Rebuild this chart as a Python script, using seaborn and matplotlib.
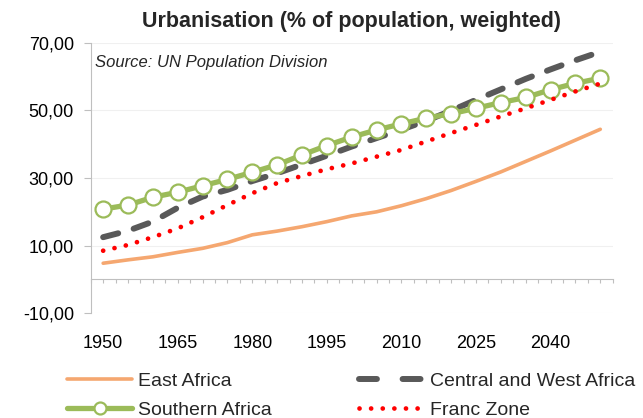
import numpy as np
import pandas as pd
import matplotlib
matplotlib.use("Agg")
import matplotlib.pyplot as plt
import seaborn as sns

# data (urban share, % of population)
years = list(range(1950, 2051, 5))
east = [4.8, 5.8, 6.7, 8.0, 9.2, 10.9, 13.2, 14.3, 15.6, 17.1, 18.8,
        20.0, 21.8, 23.9, 26.3, 29.0, 31.8, 34.9, 38.0, 41.2, 44.4]
central = [12.5, 14.4, 17.1, 21.2, 24.5, 26.5, 29.1, 31.4, 34.0, 36.6, 39.3,
           41.8, 44.3, 46.9, 49.9, 53.1, 56.2, 59.3, 62.1, 64.8, 67.3]
southern = [20.8, 22.0, 24.3, 25.8, 27.7, 29.6, 31.7, 33.9, 36.8, 39.6, 42.1,
            44.2, 46.0, 47.7, 49.0, 50.6, 52.3, 53.8, 56.1, 58.0, 59.5]
franc = [8.5, 10.2, 12.5, 15.1, 18.4, 22.0, 25.5, 28.5, 30.6, 32.6, 34.3,
         36.3, 38.3, 40.8, 43.3, 45.7, 48.2, 50.6, 53.1, 55.6, 57.9]

x_labels = ["1950", "1965", "1980", "1995", "2010", "2025", "2040"]
y_ticks = [-10, 10, 30, 50, 70]
y_labels = ["-10,00", "10,00", "30,00", "50,00", "70,00"]

df = pd.DataFrame({"year": years, "East Africa": east,
                   "Central and West Africa": central,
                   "Southern Africa": southern, "Franc Zone": franc})

sns.set_style("white")
plt.rcParams["font.family"] = ["Liberation Sans", "DejaVu Sans"]

fig = plt.figure(figsize=(6.43, 4.18), dpi=100)
ax = fig.add_axes([0.1411, 0.2505, 0.8118, 0.6474])

grey = "#BFBFBF"

sns.lineplot(data=df, x="year", y="East Africa", ax=ax, color="#F5A770",
             linewidth=2.6, label="East Africa")
sns.lineplot(data=df, x="year", y="Central and West Africa", ax=ax,
             color="#595959", linewidth=4.3, dashes=False,
             label="Central and West Africa")
ax.lines[-1].set_dashes((2.6, 2.7))
ax.lines[-1].set_dash_capstyle("round")
sns.lineplot(data=df, x="year", y="Southern Africa", ax=ax, color="#9BBB59",
             linewidth=3.8, marker="o", markersize=11.5,
             markerfacecolor="white", markeredgecolor="#9BBB59",
             markeredgewidth=1.6, label="Southern Africa")
sns.lineplot(data=df, x="year", y="Franc Zone", ax=ax, color="#FF0000",
             linewidth=3.4, label="Franc Zone")
ax.lines[-1].set_dashes((0.01, 2.45))
ax.lines[-1].set_dash_capstyle("round")

ax.set_xlim(1947.5, 2052.5)
ax.set_ylim(-10, 70)

# x axis sits on zero, labels stay at the bottom
tick_pos = np.arange(1947.5, 2052.6, 2.5)
tick_txt = [str(int(t)) if (t == int(t) and str(int(t)) in x_labels) else ""
            for t in tick_pos]
ax.set_xticks(tick_pos, tick_txt)
ax.spines["bottom"].set_position(("data", 0))
ax.spines["bottom"].set_color(grey)
ax.spines["left"].set_color(grey)
ax.spines["top"].set_visible(False)
ax.spines["right"].set_visible(False)
ax.tick_params(axis="x", direction="out", length=3, width=0.8, color=grey,
               pad=37, labelsize=13, labelcolor="black", bottom=True)

ax.set_yticks(y_ticks, y_labels)
ax.tick_params(axis="y", direction="out", length=5, width=0.8, color=grey,
               pad=7, labelsize=13, labelcolor="black", left=True)
ax.yaxis.grid(True, color="#F0F0F0", linewidth=0.8)
ax.set_xlabel("")
ax.set_ylabel("")

ax.set_title("Urbanisation (% of population, weighted)", fontsize=15.5,
             fontweight="bold", pad=11)
ax.text(95 / 643, 1 - 62 / 418, "Source: UN Population Division",
        transform=fig.transFigure, fontsize=12, style="italic",
        va="center", ha="left")

h, l = ax.get_legend_handles_labels()
order = [0, 2, 1, 3]
ax.get_legend().remove()
leg = fig.legend([h[i] for i in order], [l[i] for i in order], ncol=2,
                 loc="upper left", bbox_to_anchor=(67 / 643, 1 - 372 / 418),
                 frameon=False, fontsize=14, handlelength=3.35,
                 handletextpad=0.3, columnspacing=4.5, labelspacing=0.6,
                 borderpad=0, borderaxespad=0, markerscale=0.75)
# legend sample of the dashed line: two dashes only
leg.get_lines()[2].set_dashes((3.0, 4.3))

fig.savefig("out.png", dpi=100)
